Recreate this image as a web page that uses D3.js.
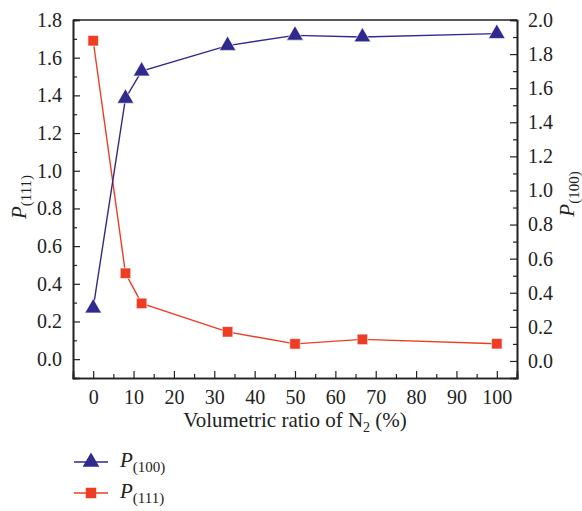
<!DOCTYPE html>
<html>
<head>
<meta charset="utf-8">
<script src="https://cdn.jsdelivr.net/npm/d3@7"></script>
<style>
  body { margin: 0; background: #fff; }
</style>
</head>
<body>
<div id="chart-area"></div>
<script>
// data
var ratio = [0, 8, 12, 33.3, 50, 66.7, 100];
var p100 = [0.31, 1.54, 1.70, 1.85, 1.91, 1.90, 1.92];   // right axis
var p111 = [1.69, 0.456, 0.296, 0.145, 0.081, 0.105, 0.082]; // left axis
var xTicks = [0, 10, 20, 30, 40, 50, 60, 70, 80, 90, 100];
var leftTicks = [0.0, 0.2, 0.4, 0.6, 0.8, 1.0, 1.2, 1.4, 1.6, 1.8];
var rightTicks = [0.0, 0.2, 0.4, 0.6, 0.8, 1.0, 1.2, 1.4, 1.6, 1.8, 2.0];

var blue = "#2f2a8c", red = "#ee3d24";
var serif = "Liberation Serif";

var margin = { left: 73, right: 65, top: 20, bottom: 133 },
    width = 582 - margin.left - margin.right,
    height = 511 - margin.top - margin.bottom;

var svg = d3.select("#chart-area")
    .append("svg")
    .attr("width", 582)
    .attr("height", 511)
    .attr("font-family", serif);
var g = svg.append("g")
    .attr("transform", "translate(" + margin.left + "," + margin.top + ")");

// Scales
var x = d3.scaleLinear().domain([-5, 105]).range([0, width]);
var yL = d3.scaleLinear().domain([-0.1, 1.8]).range([height, 0]);
var yR = d3.scaleLinear().domain([-0.1, 2.0]).range([height, 0]);

// minor ticks first
g.append("g").attr("transform", "translate(0," + height + ")")
    .call(d3.axisBottom(x).tickValues(d3.range(5, 100, 10)).tickSize(-4).tickFormat(""));
g.append("g")
    .call(d3.axisLeft(yL).tickValues(d3.range(0.1, 1.8, 0.2)).tickSize(-4).tickFormat(""));
g.append("g").attr("transform", "translate(" + width + ",0)")
    .call(d3.axisRight(yR).tickValues(d3.range(0.1, 2.0, 0.2)).tickSize(-4).tickFormat(""));

// X-axis
var xAxis = g.append("g")
    .attr("transform", "translate(0," + height + ")")
    .call(d3.axisBottom(x).tickValues(xTicks).tickSize(-7).tickPadding(12));
// Y-axes
var yAxisL = g.append("g")
    .call(d3.axisLeft(yL).tickValues(leftTicks).tickSize(-7).tickPadding(11).tickFormat(d3.format(".1f")));
var yAxisR = g.append("g")
    .attr("transform", "translate(" + width + ",0)")
    .call(d3.axisRight(yR).tickValues(rightTicks).tickSize(-7).tickPadding(11).tickFormat(d3.format(".1f")));

g.selectAll("g").attr("font-family", serif);
g.selectAll(".domain").attr("stroke", "#222").attr("stroke-width", 1.6);
g.selectAll(".tick line").attr("stroke", "#222").attr("stroke-width", 1.2);
g.selectAll(".tick text").attr("font-size", "20px").attr("fill", "#222");

// top frame line
g.append("line")
    .attr("x1", 0).attr("x2", width).attr("y1", 0).attr("y2", 0)
    .attr("stroke", "#222").attr("stroke-width", 1.6);

// lines
var lineL = d3.line().x(function(d, i) { return x(ratio[i]); }).y(function(d) { return yL(d); });
var lineR = d3.line().x(function(d, i) { return x(ratio[i]); }).y(function(d) { return yR(d); });

g.append("path").datum(p111)
    .attr("fill", "none").attr("stroke", red).attr("stroke-width", 1.4)
    .attr("d", lineL);
g.append("path").datum(p100)
    .attr("fill", "none").attr("stroke", blue).attr("stroke-width", 1.4)
    .attr("d", lineR);

var tri = d3.symbol().type(d3.symbolTriangle).size(120);
var sq = d3.symbol().type(d3.symbolSquare).size(110);

g.selectAll(".sq").data(p111).enter().append("path")
    .attr("class", "sq")
    .attr("d", sq)
    .attr("fill", red).attr("stroke", "#fff").attr("stroke-width", 0.6)
    .attr("transform", function(d, i) { return "translate(" + x(ratio[i]) + "," + yL(d) + ")"; });
g.selectAll(".tri").data(p100).enter().append("path")
    .attr("class", "tri")
    .attr("d", tri)
    .attr("fill", blue).attr("stroke", "#fff").attr("stroke-width", 0.6)
    .attr("transform", function(d, i) { return "translate(" + x(ratio[i]) + "," + yR(d) + ")"; });

// Labels
var xLabel = svg.append("text")
    .attr("x", margin.left + width / 2)
    .attr("y", 427)
    .attr("font-size", "21px")
    .attr("fill", "#222")
    .attr("text-anchor", "middle");
xLabel.append("tspan").text("Volumetric ratio of N");
xLabel.append("tspan").attr("dy", 5).attr("font-size", "14px").text("2");
xLabel.append("tspan").attr("dy", -5).text(" (%)");

function pLabel(sel, sub) {
    sel.append("tspan").attr("font-style", "italic").text("P");
    sel.append("tspan").attr("dy", 5).attr("font-size", "15px").text("(" + sub + ")");
}

var yLabel = svg.append("text")
    .attr("transform", "translate(26,197) rotate(-90)")
    .attr("font-size", "21px")
    .attr("fill", "#222")
    .attr("text-anchor", "middle");
pLabel(yLabel, "111");

var yLabel2 = svg.append("text")
    .attr("transform", "translate(574,194) rotate(-90)")
    .attr("font-size", "21px")
    .attr("fill", "#222")
    .attr("text-anchor", "middle");
pLabel(yLabel2, "100");

// Legend
var legend = [
    { name: "100", color: blue, sym: tri, y: 462 },
    { name: "111", color: red, sym: sq, y: 493 }
];
legend.forEach(function(l) {
    svg.append("line")
        .attr("x1", 74).attr("x2", 108).attr("y1", l.y).attr("y2", l.y)
        .attr("stroke", l.color).attr("stroke-width", 1.4);
    svg.append("path")
        .attr("d", l.sym)
        .attr("fill", l.color)
        .attr("transform", "translate(91," + l.y + ")");
    var t = svg.append("text")
        .attr("x", 120).attr("y", l.y + 5)
        .attr("font-size", "21px")
        .attr("fill", "#222");
    pLabel(t, l.name);
});
</script>
</body>
</html>
